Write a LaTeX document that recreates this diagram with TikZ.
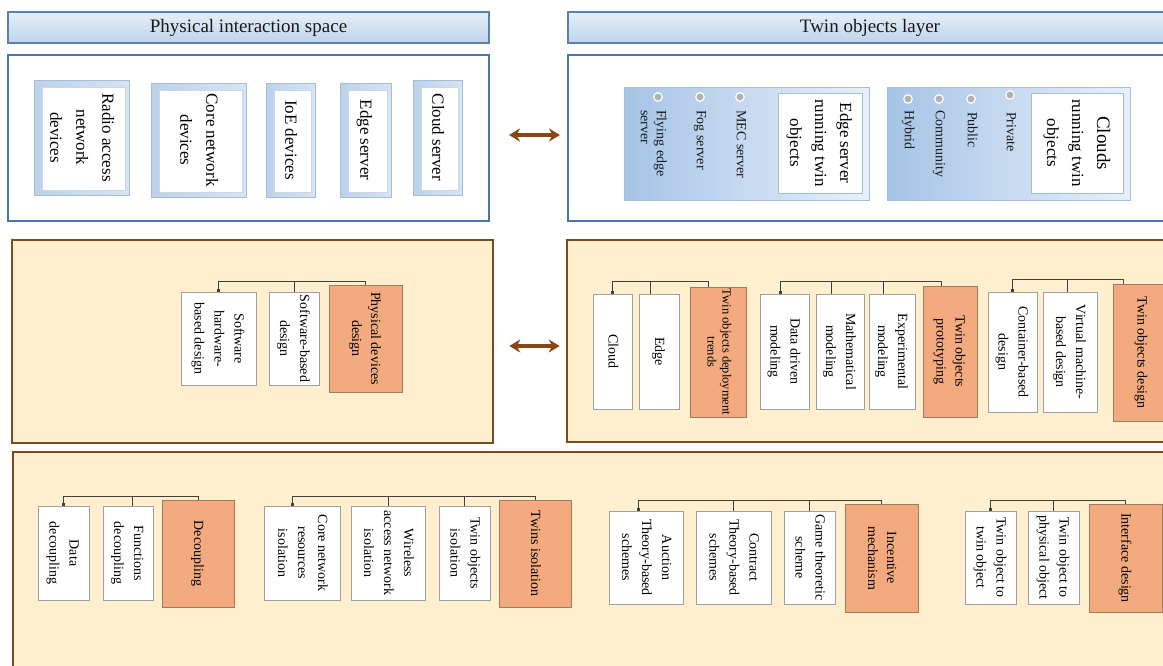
\documentclass[tikz,border=0pt]{standalone}
\usepackage{fontspec}
\setmainfont{Liberation Serif}
\usepackage{graphicx}
\usetikzlibrary{arrows.meta}
\definecolor{cream}{HTML}{FEF0CF}
\definecolor{brownline}{HTML}{7A4B21}
\definecolor{orangefill}{HTML}{F2AA7E}
\definecolor{oline}{HTML}{A27A5C}
\definecolor{boxgray}{HTML}{A0A0A0}
\definecolor{panelblue}{HTML}{4A77A8}
\definecolor{hdrline}{HTML}{5A82AE}
\definecolor{hdrtop}{HTML}{E6EFF9}
\definecolor{hdrbot}{HTML}{BED4EB}
\definecolor{devframe}{HTML}{BCD2EA}
\definecolor{devline}{HTML}{A3BEDB}
\definecolor{grpdark}{HTML}{A6C4E7}
\definecolor{grplight}{HTML}{E8F0F9}
\definecolor{arrowbrown}{HTML}{8A4512}
\newcommand{\vt}[1]{\rotatebox{-90}{\begin{tabular}{@{}c@{}}#1\end{tabular}}}
\newcommand{\vtl}[1]{\rotatebox{-90}{\begin{tabular}{@{}l@{}}#1\end{tabular}}}
\tikzset{
  sz/.style 2 args={minimum width=#1pt, minimum height=#2pt},
  hdr/.style={draw=hdrline, line width=1.6pt, top color=hdrtop, bottom color=hdrbot,
    inner sep=0pt, font=\fontsize{19}{22}\selectfont, text=black!90},
  tpanel/.style={draw=panelblue, line width=2pt, fill=white, inner sep=0pt},
  bpanel/.style={draw=brownline, line width=2.6pt, fill=cream, inner sep=0pt},
  devbox/.style={draw=devline, line width=0.6pt, left color=devframe, right color=devframe!60, inner sep=0pt,
    font=\fontsize{17}{26}\selectfont,
    path picture={\fill[white, draw=devline!60] ([xshift=8pt,yshift=-7pt]path picture bounding box.north west)
      rectangle ([xshift=-4pt,yshift=5pt]path picture bounding box.south east);}},
  grpbox/.style={draw=devline, line width=0.6pt, left color=grpdark, right color=grplight, inner sep=0pt},
  gwbox/.style={draw=devline, line width=0.6pt, fill=white, inner sep=0pt,
    font=\fontsize{17}{25}\selectfont},
  wbox/.style={draw=boxgray, line width=0.8pt, fill=white, inner sep=0pt,
    font=\fontsize{14}{20}\selectfont},
  obox/.style={draw=oline, line width=0.8pt, fill=orangefill, inner sep=0pt,
    font=\fontsize{14}{19}\selectfont},
  conn/.style={draw=black!75, line width=0.8pt},
  connend/.style={conn, -{Square[length=2.2pt,width=3pt]}},
  biarrow/.style={{Stealth[length=11pt,width=13pt]}-{Stealth[length=11pt,width=13pt]},
    draw=arrowbrown, line width=4pt},
  bullet/.style={circle, draw=white, line width=1.2pt, fill=gray!60, minimum size=8.5pt, inner sep=0pt},
  btext/.style={font=\fontsize{14}{16}\selectfont, inner sep=0pt, anchor=north, text=black!90},
}
\begin{document}
\begin{tikzpicture}[x=1pt, y=-1pt]
\useasboundingbox (0,0) rectangle (1163,665);
\clip (0,0) rectangle (1163,665);
\fill[white] (0,0) rectangle (1163,665);

% ---------- top row ----------
\node[hdr, sz={481}{31}] (hl) at (248.5,27.5) {Physical interaction space};
\node[hdr, sz={604}{31}] (hr) at (870,27.5) {Twin objects layer};
\node[tpanel, sz={481}{166}] (pl) at (248.5,138) {};
\node[tpanel, sz={612}{166}] (pr) at (874,138) {};

\node[devbox, sz={95}{115}] (d1) at (81.5,137.5) {\vt{Radio access\\network\\devices}};
\node[devbox, sz={95}{114}] (d2) at (198.5,140) {\vt{Core network\\devices}};
\node[devbox, sz={49}{114}] (d3) at (290.5,140) {\vt{IoE devices}};
\node[devbox, sz={51}{114}] (d4) at (365.5,140) {\vt{Edge server}};
\node[devbox, sz={49}{115}] (d5) at (437.5,137.5) {\vt{Cloud server}};

\node[grpbox, sz={245}{113}] (eg) at (746.5,143.5) {};
\node[gwbox, sz={84}{100}] (ew) at (820,143) {\vt{Edge server\\running twin\\objects}};
\node[bullet] (bm) at (740,97) {};
\node[bullet] (bf) at (700,97) {};
\node[bullet] (bfl) at (658,97) {};
\node[btext] (tm) at (740,110) {\vt{MEC server}};
\node[btext] (tf) at (700,110) {\vt{Fog server}};
\node[btext] (tfl) at (652,110) {\vtl{Flying edge\\server}};

\node[grpbox, sz={243}{113}] (cg) at (1008.5,143.5) {};
\node[gwbox, sz={92}{100}] (cw) at (1077,143) {\vt{{\fontsize{19}{25}\selectfont Clouds}\\running twin\\objects}};
\node[bullet] (bp) at (1010,95) {};
\node[bullet] (bpu) at (971,99) {};
\node[bullet] (bc) at (939,99) {};
\node[bullet] (bh) at (908,99) {};
\node[btext] (tp) at (1010,112) {\vt{Private}};
\node[btext] (tpu) at (971,112) {\vt{Public}};
\node[btext] (tc) at (939,110) {\vt{Community}};
\node[btext] (th) at (908,110) {\vt{Hybrid}};

\draw[biarrow, shorten <=19pt, shorten >=7pt] ([yshift=3pt]pl.east) -- ([yshift=3pt]pr.west);

% ---------- middle row ----------
\node[bpanel, sz={481}{203}] (pml) at (252.5,341.5) {};
\node[bpanel, sz={613}{202}] (pmr) at (873.5,341) {};

\node[obox, sz={73}{107}] (pdd) at (365.5,338.5) {\vt{Physical devices\\design}};
\node[wbox, sz={50}{93}] (sbd) at (294,338.5) {\vt{Software-based\\design}};
\node[wbox, sz={75}{93}] (shd) at (218.5,338.5) {\vt{Software\\hardware-\\based design}};
\coordinate (l1) at (0,281);
\draw[connend] (pdd.north) -- (pdd.north |- l1) -| (shd.north);
\draw[conn] (sbd.north) -- (sbd.north |- l1);

\node[obox, sz={56}{130}, font=\fontsize{12.5}{15}\selectfont] (dep) at (718,352) {\vt{Twin objects deployment\\trends}};
\node[wbox, sz={40}{115}] (edg) at (659,351.5) {\vt{Edge}};
\node[wbox, sz={39}{115}] (cld) at (612.5,351.5) {\vt{Cloud}};
\coordinate (l2) at (0,281);
\draw[connend] ([xshift=-10pt]dep.north) -- ([xshift=-10pt]dep.north |- l2) -| (cld.north);
\draw[conn] ([xshift=-9pt]edg.north) -- ([xshift=-9pt]edg.north |- l2);

\node[obox, sz={54}{131}] (pro) at (950,351.5) {\vt{Twin objects\\prototyping}};
\node[wbox, sz={46}{115}] (exm) at (892,351.5) {\vt{Experimental\\modeling}};
\node[wbox, sz={48}{115}] (mam) at (840,351.5) {\vt{Mathematical\\modeling}};
\node[wbox, sz={49}{115}] (ddm) at (784.5,351.5) {\vt{Data driven\\modeling}};
\coordinate (l3) at (0,281);
\draw[connend] ([xshift=-9pt]pro.north) -- ([xshift=-9pt]pro.north |- l3) -| ([xshift=-4pt]ddm.north);
\draw[conn] ([xshift=-9pt]mam.north) -- ([xshift=-9pt]mam.north |- l3);
\draw[conn] ([xshift=-9pt]exm.north) -- ([xshift=-9pt]exm.north |- l3);

\node[obox, sz={57}{137}] (tod) at (1141.5,352.5) {\vt{Twin objects design}};
\node[wbox, sz={54}{120}] (vmd) at (1070,352) {\vt{Virtual machine-\\based design}};
\node[wbox, sz={49}{120}] (cbd) at (1012.5,352) {\vt{Container-based\\design}};
\coordinate (l4) at (0,279);
\draw[connend] ([xshift=-18pt]tod.north) -- ([xshift=-18pt]tod.north |- l4) -| (cbd.north);
\draw[conn] ([xshift=-3pt]vmd.north) -- ([xshift=-3pt]vmd.north |- l4);

\draw[biarrow, shorten <=15pt, shorten >=6pt] ([yshift=-4.5pt]pml.east) -- ([yshift=-5pt]pmr.west);

% ---------- bottom row ----------
\node[bpanel, sz={1167}{228}] (pb) at (596.5,566) {};

\node[obox, sz={72}{107}] (dec) at (198,553.5) {\vt{Decoupling}};
\node[wbox, sz={50}{94}] (fdc) at (128,553) {\vt{Functions\\decoupling}};
\node[wbox, sz={51}{94}] (ddc) at (63.5,553) {\vt{Data\\decoupling}};
\coordinate (l5) at (0,496);
\draw[connend] (dec.north) -- (dec.north |- l5) -| (ddc.north);
\draw[conn] ([xshift=4pt]fdc.north) -- ([xshift=4pt]fdc.north |- l5);

\node[obox, sz={72}{107}] (tis) at (535,553.5) {\vt{Twins isolation}};
\node[wbox, sz={51}{94}] (toi) at (464.5,553) {\vt{Twin objects\\isolation}};
\node[wbox, sz={74}{94}] (wan) at (388,553) {\vt{Wireless\\access network\\isolation}};
\node[wbox, sz={76}{94}] (cnr) at (302,553) {\vt{Core network\\resources\\isolation}};
\coordinate (l6) at (0,496);
\draw[connend] (tis.north) -- (tis.north |- l6) -| ([xshift=-10pt]cnr.north);
\draw[conn] (wan.north) -- (wan.north |- l6);
\draw[conn] (toi.north) -- (toi.north |- l6);

\node[obox, sz={73}{108}] (inc) at (881.5,558) {\vt{Incentive\\mechanism}};
\node[wbox, sz={51}{93}] (gts) at (809.5,557.5) {\vt{Game theoretic\\scheme}};
\node[wbox, sz={75}{93}] (ctb) at (733.5,557.5) {\vt{Contract\\Theory-based\\schemes}};
\node[wbox, sz={74}{93}] (atb) at (646,557.5) {\vt{Auction\\Theory-based\\schemes}};
\coordinate (l7) at (0,500);
\draw[connend] (inc.north) -- (inc.north |- l7) -| ([xshift=-8pt]atb.north);
\draw[conn] (ctb.north) -- (ctb.north |- l7);
\draw[conn] (gts.north) -- (gts.north |- l7);

\node[obox, sz={73}{108}] (ifd) at (1125.5,558) {\vt{Interface design}};
\node[wbox, sz={51}{93}] (tpo) at (1053.5,557.5) {\vt{Twin object to\\physical object}};
\node[wbox, sz={51}{93}] (ttt) at (990.5,557.5) {\vt{Twin object to\\twin object}};
\coordinate (l8) at (0,500);
\draw[connend] (ifd.north) -- (ifd.north |- l8) -| (ttt.north);
\draw[conn] (tpo.north) -- (tpo.north |- l8);
\end{tikzpicture}
\end{document}
